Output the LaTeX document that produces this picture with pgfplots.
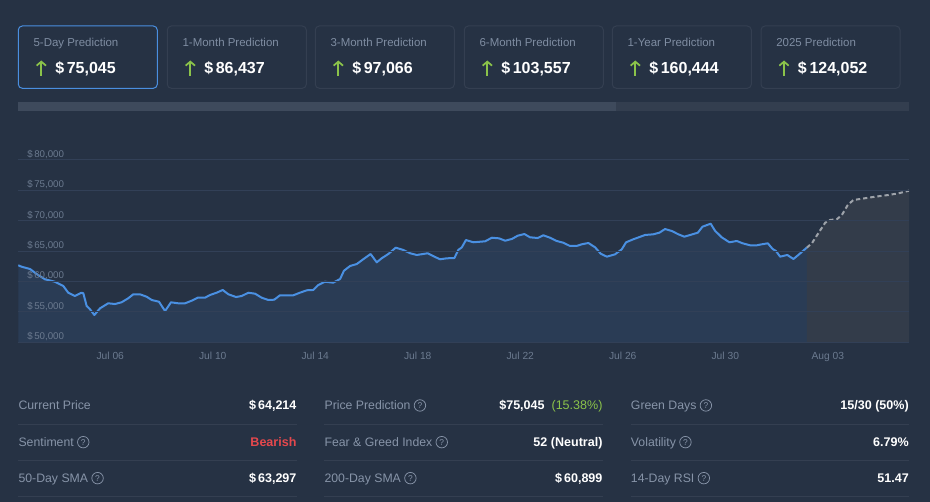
\documentclass[border=0pt]{standalone}
\usepackage{fontspec}
\setmainfont{Liberation Sans}
\usepackage{pgfplots}
\pgfplotsset{compat=1.18}
\usepackage{pgfplotstable}
\usetikzlibrary{arrows.meta}

\definecolor{bg}{HTML}{263244}
\definecolor{cardline}{HTML}{343F51}
\definecolor{cardblue}{HTML}{4A8FE0}
\definecolor{cardlab}{HTML}{7F8DA2}
\definecolor{statlab}{HTML}{8794A8}
\definecolor{ticklab}{HTML}{6B7A8F}
\definecolor{barlight}{HTML}{3E4A5C}
\definecolor{bardark}{HTML}{333E4F}
\definecolor{histfill}{HTML}{2A3C55}
\definecolor{fcfill}{HTML}{333C4A}
\definecolor{gridc}{HTML}{324057}
\definecolor{lineblue}{HTML}{4A90E2}
\definecolor{dashgray}{HTML}{9EA3AA}
\definecolor{upgreen}{HTML}{8BC34A}
\definecolor{bearred}{HTML}{E5484D}

\newcommand\fs[1]{\fontsize{#1}{#1}\selectfont}

% price history, day of July vs USD
\pgfplotstableread{
t v
2.41 62670
2.54 62440
2.87 62060
3.13 61240
3.45 60370
3.84 59970
4.17 59260
4.36 58160
4.62 57620
4.88 58160
4.95 58060
5.08 55970
5.21 55430
5.38 54490
5.60 55590
5.92 56420
6.18 56300
6.44 56580
6.70 57240
6.90 57900
7.16 57900
7.42 57500
7.62 56960
7.90 56680
8.14 55150
8.37 56580
8.65 56420
8.92 56420
9.18 56850
9.41 57340
9.70 57340
9.89 57780
10.15 58160
10.39 58610
10.61 57900
10.91 57450
11.13 57620
11.39 58160
11.65 58000
11.91 57340
12.17 56960
12.40 57010
12.62 57730
13.14 57730
13.40 58160
13.67 58560
13.92 58610
14.12 59430
14.38 59970
14.70 59810
14.97 60420
15.12 61780
15.36 62560
15.62 62880
15.87 63660
16.16 64530
16.40 63160
16.59 63820
16.85 64530
17.14 65570
17.44 65190
17.70 64650
17.96 64370
18.39 64650
18.65 64090
18.87 63660
19.13 63820
19.43 63870
19.58 65190
19.72 65630
19.88 66830
20.17 66460
20.63 66620
20.89 67210
21.17 67110
21.41 66720
21.67 67000
21.90 67540
22.16 67820
22.38 67280
22.68 67160
22.90 67610
23.16 67210
23.42 66670
23.68 66390
23.94 65850
24.20 65850
24.40 66130
24.66 66340
24.92 65630
25.14 64580
25.38 64090
25.70 64480
25.96 65300
26.13 66460
26.41 66950
26.87 67660
27.19 67770
27.43 68040
27.65 68640
27.91 68320
28.17 67770
28.40 67380
28.63 67660
28.93 68040
29.11 69020
29.43 69520
29.60 68360
29.86 67280
30.16 66460
30.45 66670
30.68 66290
30.97 65960
31.23 65960
31.43 66130
31.66 66290
31.85 65350
31.98 65020
32.14 64090
32.42 64370
32.66 63710
32.85 64370
33.18 65570
}\hist

% forecast
\pgfplotstableread{
t v
33.18 65570
33.38 66290
33.63 67940
33.90 69680
34.09 70130
34.35 70240
34.55 70950
34.78 72590
35.00 73420
35.26 73580
35.85 73960
36.37 74240
36.76 74520
37.17 74950
}\fcst

\newcommand\card[4]{%
  \draw[#4, line width=0.75pt, rounded corners=3pt] (#1,413.7) rectangle ++(139,62.3);
  \node[anchor=base west, inner sep=0, text=cardlab, font=\fs{8.6pt}] at (#1+15,455.3) {#2};
  \draw[upgreen, line width=1.3pt, -{Straight Barb[length=3pt,width=7pt]}] (#1+23,426) -- (#1+23,441.5);
  \node[anchor=base west, inner sep=0, text=white, font=\bfseries\fs{12pt}] at (#1+36.7,428) {\$\,#3};
}
\newcommand\statlabel[3]{%
  \node[anchor=base west, inner sep=0, text=statlab, font=\fs{9.2pt}] (L) at (#1,#2) {#3};
}
\newcommand\qmark{%
  \draw[statlab, line width=0.55pt] ([xshift=6.9pt, yshift=3.4pt]L.base east) circle (4.3pt);
  \node[text=statlab, font=\fs{6.3pt}, inner sep=0] at ([xshift=6.9pt, yshift=3.4pt]L.base east) {?};
}
\newcommand\statval[3]{%
  \node[anchor=base east, inner sep=0, text=white, font=\bfseries\fs{9.4pt}] at (#1,#2) {#3};
}

\begin{document}
\begin{tikzpicture}[x=0.75pt,y=0.75pt]
\path[use as bounding box, fill=bg] (0,0) rectangle (930,502);

% prediction cards
\card{18.3}{5-Day Prediction}{75,045}{cardblue}
\card{167.3}{1-Month Prediction}{86,437}{cardline}
\card{315.3}{3-Month Prediction}{97,066}{cardline}
\card{464.3}{6-Month Prediction}{103,557}{cardline}
\card{612.3}{1-Year Prediction}{160,444}{cardline}
\card{761}{2025 Prediction}{124,052}{cardline}

% progress bar
\fill[barlight] (18,391) rectangle (616,400);
\fill[bardark] (616,391) rectangle (909,400);

\begin{axis}[
  at={(13.5pt,119.775pt)}, anchor=south west,
  scale only axis, width=668.25pt, height=136.725pt,
  xmin=2.40, xmax=37.17, ymin=50000, ymax=80000,
  axis line style={draw=none},
  major tick length=0pt,
  scaled y ticks=false,
  ymajorgrids, grid style={color=gridc, line width=0.75pt},
  ytick={50000,55000,60000,65000,70000,75000,80000},
  yticklabels={{\$\,50,000},{\$\,55,000},{\$\,60,000},{\$\,65,000},{\$\,70,000},{\$\,75,000},{\$\,80,000}},
  yticklabel style={anchor=base west, inner sep=0pt, xshift=6.75pt, yshift=2pt, text=ticklab, font=\fs{7.3pt}},
  xtick={6,10,14,18,22,26,30,34},
  xticklabels={Jul 06,Jul 10,Jul 14,Jul 18,Jul 22,Jul 26,Jul 30,Aug 03},
  xticklabel style={anchor=base, inner sep=0pt, yshift=-12.6pt, text=ticklab, font=\fs{7.7pt}},
  axis on top,
]
\addplot[draw=none, fill=histfill] table[x=t, y=v] {\hist} \closedcycle;
\addplot[draw=none, fill=fcfill] table[x=t, y=v] {\fcst} \closedcycle;
\addplot[lineblue, line width=1.5pt, line join=round] table[x=t, y=v] {\hist};
\addplot[dashgray, line width=1.5pt, dash pattern=on 3.2pt off 2.2pt] table[x=t, y=v] {\fcst};
\end{axis}

% statistics
\statlabel{18.3}{92}{Current Price}
\statval{296.7}{92}{\$\,64,214}
\statlabel{18.3}{55.3}{Sentiment}\qmark
\statval{296.7}{55.3}{\textcolor{bearred}{Bearish}}
\statlabel{18.3}{19.3}{50-Day SMA}\qmark
\statval{296.7}{19.3}{\$\,63,297}

\statlabel{324.3}{92}{Price Prediction}\qmark
\statval{602.7}{92}{\$75,045\ \ \textcolor{upgreen}{\mdseries(15.38\%)}}
\statlabel{324.3}{55.3}{Fear \& Greed Index}\qmark
\statval{602.7}{55.3}{52 (Neutral)}
\statlabel{324.3}{19.3}{200-Day SMA}\qmark
\statval{602.7}{19.3}{\$\,60,899}

\statlabel{630.7}{92}{Green Days}\qmark
\statval{909}{92}{15/30 (50\%)}
\statlabel{630.7}{55.3}{Volatility}\qmark
\statval{909}{55.3}{6.79\%}
\statlabel{630.7}{19.3}{14-Day RSI}\qmark
\statval{909}{19.3}{51.47}

\foreach \a/\b in {18.3/296.7, 324.3/602.7, 630.7/909} {
  \foreach \yy in {77.7, 41.7, 5.7}
    \draw[cardline, line width=0.75pt] (\a,\yy) -- (\b,\yy);
}
\end{tikzpicture}
\end{document}
